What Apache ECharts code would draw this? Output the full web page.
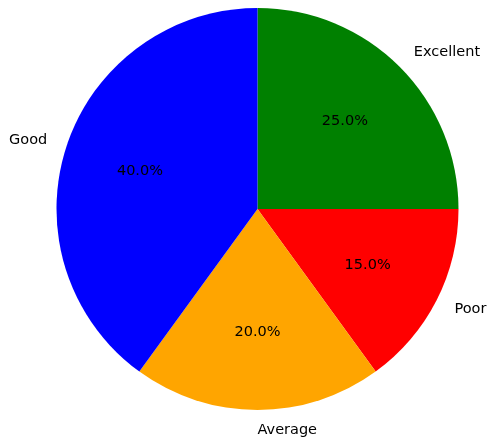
<!DOCTYPE html>
<html>
<head>
<meta charset="utf-8">
<script src="https://cdn.jsdelivr.net/npm/echarts@6/dist/echarts.min.js"></script>
<style>
  html, body { margin: 0; padding: 0; background: #fff; }
  #chart { width: 488px; height: 439px; }
</style>
</head>
<body>
<div id="chart"></div>
<script>
// Ratings share, drawn clockwise from 12 o'clock
const categories = ['Excellent', 'Poor', 'Average', 'Good'];
const shares = [25, 15, 20, 40];
const colors = ['#008000', '#ff0000', '#ffa500', '#0000ff'];

const cx = 257.5, cy = 209, R = 201;
const font = 'DejaVu Sans, sans-serif';
const fontSize = 14.5;

const slices = categories.map((name, i) => ({ name, value: shares[i], itemStyle: { color: colors[i] } }));
const total = shares.reduce((a, b) => a + b, 0);

const chart = echarts.init(document.getElementById('chart'), null, { renderer: 'canvas' });
chart.setOption({
  animation: false,
  series: [
    {
      // filled wedges with category names just outside the rim
      type: 'pie',
      center: [cx, cy],
      radius: [0, R],
      startAngle: 90,
      clockwise: true,
      avoidLabelOverlap: false,
      silent: true,
      data: slices,
      label: {
        show: true,
        position: 'outside',
        formatter: '{b}',
        color: '#000',
        fontFamily: font,
        fontSize: fontSize,
        distanceToLabelLine: 0,
        alignTo: 'none'
      },
      labelLine: { show: false, length: R * 0.1, length2: 0 },
      itemStyle: { borderWidth: 0 }
    },
    {
      // transparent ring carrying the percentage labels at 0.6 R
      type: 'pie',
      center: [cx, cy],
      radius: [0, R * 1.2],
      startAngle: 90,
      clockwise: true,
      silent: true,
      data: categories.map((name, i) => ({ name, value: shares[i] })),
      itemStyle: { color: 'rgba(0,0,0,0)', borderWidth: 0 },
      label: {
        show: true,
        position: 'inside',
        formatter: p => (p.value / total * 100).toFixed(1) + '%',
        color: '#000',
        fontFamily: font,
        fontSize: fontSize
      },
      labelLine: { show: false }
    }
  ]
});
</script>
</body>
</html>
